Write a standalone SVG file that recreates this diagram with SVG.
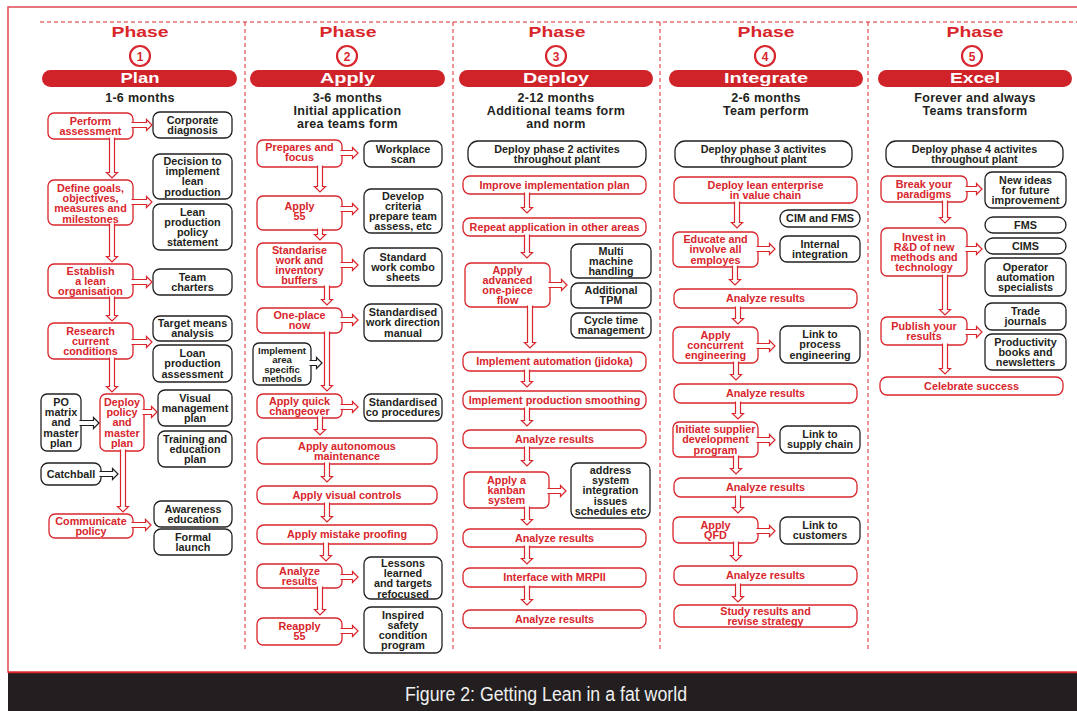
<svg xmlns="http://www.w3.org/2000/svg" width="1077" height="711" viewBox="0 0 1077 711">
<style>
text{font-family:"Liberation Sans",Arial,sans-serif;font-weight:bold;text-anchor:middle}
.r{fill:#fff;stroke:#d8262c;stroke-width:1.3}
.b{fill:#fff;stroke:#231f20;stroke-width:1.3}
.rt{fill:#d8262c;font-size:10.8px}
.bt{fill:#231f20;font-size:10.8px}
.sm{font-size:9.6px}
.ar{fill:#fff;stroke:#d8262c;stroke-width:1.2}
.ab{fill:#fff;stroke:#231f20;stroke-width:1.2}
.ph{fill:#d8262c;font-size:15px}
.num{fill:#d8262c;font-size:12px}
.circ{fill:#fff;stroke:#d8262c;stroke-width:2.2}
.pill{fill:#cf2229}
.pt{fill:#fff;font-size:14px}
.sub{fill:#231f20;font-size:12.5px;letter-spacing:0.3px}
.dash{stroke:#d8262c;stroke-width:1;stroke-dasharray:4 3;fill:none}
</style>
<rect width="1077" height="711" fill="#fff"/>
<rect x="8" y="7" width="1080" height="665" fill="none" stroke="#e0555a" stroke-width="1.6"/>
<rect x="8" y="673" width="1069" height="38" fill="#231f20"/>
<line x1="8" y1="672.5" x2="1077" y2="672.5" stroke="#d8262c" stroke-width="1.5"/>
<text x="546" y="701" style="font-weight:normal;font-size:20px;fill:#f0f0f0" textLength="282" lengthAdjust="spacingAndGlyphs">Figure 2: Getting Lean in a fat world</text>

<g id="frame">
<line class="dash" x1="40" y1="22" x2="1077" y2="22"/>
<line class="dash" x1="245" y1="22" x2="245" y2="650"/>
<line class="dash" x1="453" y1="22" x2="453" y2="650"/>
<line class="dash" x1="660" y1="22" x2="660" y2="650"/>
<line class="dash" x1="868" y1="22" x2="868" y2="650"/>
</g>

<g id="header1">
<text class="ph" x="140" y="37" textLength="57" lengthAdjust="spacingAndGlyphs">Phase</text>
<circle class="circ" cx="140" cy="56" r="10"/><text class="num" x="140" y="60.5">1</text>
<rect class="pill" x="42" y="70" width="195" height="17" rx="8.5"/>
<text class="pt" x="140" y="83" textLength="39" lengthAdjust="spacingAndGlyphs">Plan</text>
<text class="sub" x="140" y="102">1-6 months</text>
</g>
<g id="header2">
<text class="ph" x="348" y="37" textLength="57" lengthAdjust="spacingAndGlyphs">Phase</text>
<circle class="circ" cx="347" cy="56" r="10"/><text class="num" x="347" y="60.5">2</text>
<rect class="pill" x="250" y="70" width="195" height="17" rx="8.5"/>
<text class="pt" x="347.5" y="83" textLength="55" lengthAdjust="spacingAndGlyphs">Apply</text>
<text class="sub" x="347.5" y="102">3-6 months</text>
<text class="sub" x="347.5" y="115">Initial application</text>
<text class="sub" x="347.5" y="128">area teams form</text>
</g>
<g id="header3">
<text class="ph" x="557" y="37" textLength="57" lengthAdjust="spacingAndGlyphs">Phase</text>
<circle class="circ" cx="556" cy="56" r="10"/><text class="num" x="556" y="60.5">3</text>
<rect class="pill" x="459" y="70" width="194" height="17" rx="8.5"/>
<text class="pt" x="556" y="83" textLength="66" lengthAdjust="spacingAndGlyphs">Deploy</text>
<text class="sub" x="556" y="102">2-12 months</text>
<text class="sub" x="556" y="115">Additional teams form</text>
<text class="sub" x="556" y="128">and norm</text>
</g>
<g id="header4">
<text class="ph" x="766" y="37" textLength="57" lengthAdjust="spacingAndGlyphs">Phase</text>
<circle class="circ" cx="765" cy="56" r="10"/><text class="num" x="765" y="60.5">4</text>
<rect class="pill" x="669" y="70" width="194" height="17" rx="8.5"/>
<text class="pt" x="766" y="83" textLength="84" lengthAdjust="spacingAndGlyphs">Integrate</text>
<text class="sub" x="766" y="102">2-6 months</text>
<text class="sub" x="766" y="115">Team perform</text>
</g>
<g id="header5">
<text class="ph" x="975" y="37" textLength="57" lengthAdjust="spacingAndGlyphs">Phase</text>
<circle class="circ" cx="972" cy="56" r="10"/><text class="num" x="972" y="60.5">5</text>
<rect class="pill" x="878" y="70" width="194" height="17" rx="8.5"/>
<text class="pt" x="975" y="83" textLength="50" lengthAdjust="spacingAndGlyphs">Excel</text>
<text class="sub" x="975" y="102">Forever and always</text>
<text class="sub" x="975" y="115">Teams transform</text>
</g>

<!-- Column 1 -->
<g id="p1-perform"><rect class="r" x="48" y="113" width="85" height="26" rx="6"/><text class="rt" x="90.5" y="124.7">Perform</text><text class="rt" x="90.5" y="134.9">assessment</text></g>
<g id="p1-corporate"><rect class="b" x="153" y="112" width="79" height="26" rx="7"/><text class="bt" x="192.5" y="123.7">Corporate</text><text class="bt" x="192.5" y="133.9">diagnosis</text></g>
<g id="p1-define"><rect class="r" x="48" y="180" width="85" height="45" rx="6"/><text class="rt" x="90.5" y="191.5">Define goals,</text><text class="rt" x="90.5" y="201.9">objectives,</text><text class="rt" x="90.5" y="212.3">measures and</text><text class="rt" x="90.5" y="222.7">milestones</text></g>
<g id="p1-decision"><rect class="b" x="153" y="154" width="79" height="45" rx="7"/><text class="bt" x="192.5" y="165">Decision to</text><text class="bt" x="192.5" y="175.2">implement</text><text class="bt" x="192.5" y="185.4">lean</text><text class="bt" x="192.5" y="195.6">production</text></g>
<g id="p1-policy"><rect class="b" x="153" y="204" width="79" height="46" rx="7"/><text class="bt" x="192.5" y="215.5">Lean</text><text class="bt" x="192.5" y="225.7">production</text><text class="bt" x="192.5" y="235.9">policy</text><text class="bt" x="192.5" y="246.1">statement</text></g>
<g id="p1-establish"><rect class="r" x="48" y="264" width="85" height="34" rx="6"/><text class="rt" x="90.5" y="274.6">Establish</text><text class="rt" x="90.5" y="284.8">a lean</text><text class="rt" x="90.5" y="295">organisation</text></g>
<g id="p1-team"><rect class="b" x="153" y="269" width="79" height="26" rx="7"/><text class="bt" x="192.5" y="280.7">Team</text><text class="bt" x="192.5" y="290.9">charters</text></g>
<g id="p1-research"><rect class="r" x="48" y="323" width="85" height="36" rx="6"/><text class="rt" x="90.5" y="334.6">Research</text><text class="rt" x="90.5" y="344.8">current</text><text class="rt" x="90.5" y="355">conditions</text></g>
<g id="p1-target"><rect class="b" x="153" y="316" width="79" height="25" rx="7"/><text class="bt" x="192.5" y="327.2">Target means</text><text class="bt" x="192.5" y="337.4">analysis</text></g>
<g id="p1-loan"><rect class="b" x="153" y="345" width="79" height="37" rx="7"/><text class="bt" x="192.5" y="357.1">Loan</text><text class="bt" x="192.5" y="367.3">production</text><text class="bt" x="192.5" y="377.5">assessment</text></g>
<g id="p1-deploy"><rect class="r" x="100" y="394" width="44" height="57" rx="6"/><text class="rt" x="122" y="405.9">Deploy</text><text class="rt" x="122" y="416.1">policy</text><text class="rt" x="122" y="426.3">and</text><text class="rt" x="122" y="436.5">master</text><text class="rt" x="122" y="446.7">plan</text></g>
<g id="p1-visual"><rect class="b" x="158" y="390" width="74" height="36" rx="7"/><text class="bt" x="195" y="401.6">Visual</text><text class="bt" x="195" y="411.8">management</text><text class="bt" x="195" y="422">plan</text></g>
<g id="p1-training"><rect class="b" x="158" y="431" width="74" height="36" rx="7"/><text class="bt" x="195" y="442.6">Training and</text><text class="bt" x="195" y="452.8">education</text><text class="bt" x="195" y="463">plan</text></g>
<g id="p1-pomatrix"><rect class="b" x="41" y="394" width="40" height="57" rx="6"/><text class="bt" x="61" y="405.9">PO</text><text class="bt" x="61" y="416.1">matrix</text><text class="bt" x="61" y="426.3">and</text><text class="bt" x="61" y="436.5">master</text><text class="bt" x="61" y="446.7">plan</text></g>
<g id="p1-catchball"><rect class="b" x="41" y="463" width="60" height="22" rx="7"/><text class="bt" x="71" y="477.8">Catchball</text></g>
<g id="p1-communicate"><rect class="r" x="49" y="514" width="84" height="24" rx="6"/><text class="rt" x="91" y="524.7">Communicate</text><text class="rt" x="91" y="534.9">policy</text></g>
<g id="p1-awareness"><rect class="b" x="154" y="501" width="78" height="26" rx="7"/><text class="bt" x="193" y="512.7">Awareness</text><text class="bt" x="193" y="522.9">education</text></g>
<g id="p1-formal"><rect class="b" x="154" y="529" width="78" height="26" rx="7"/><text class="bt" x="193" y="540.7">Formal</text><text class="bt" x="193" y="550.9">launch</text></g>

<!-- Column 2 -->
<g id="p2-prepares"><rect class="r" x="257" y="140" width="85" height="27" rx="6"/><text class="rt" x="299.5" y="151.2">Prepares and</text><text class="rt" x="299.5" y="161.4">focus</text></g>
<g id="p2-workplace"><rect class="b" x="364" y="141" width="78" height="26" rx="7"/><text class="bt" x="403" y="152.7">Workplace</text><text class="bt" x="403" y="162.9">scan</text></g>
<g id="p2-apply55"><rect class="r" x="257" y="196" width="85" height="34" rx="6"/><text class="rt" x="299.5" y="210.2">Apply</text><text class="rt" x="299.5" y="220.4">55</text></g>
<g id="p2-develop"><rect class="b" x="364" y="189" width="78" height="44" rx="7"/><text class="bt" x="403" y="199.5">Develop</text><text class="bt" x="403" y="209.7">criteria</text><text class="bt" x="403" y="219.9">prepare team</text><text class="bt" x="403" y="230.1">assess, etc</text></g>
<g id="p2-standarise"><rect class="r" x="257" y="243" width="85" height="44" rx="6"/><text class="rt" x="299.5" y="253.5">Standarise</text><text class="rt" x="299.5" y="263.7">work and</text><text class="rt" x="299.5" y="273.9">inventory</text><text class="rt" x="299.5" y="284.1">buffers</text></g>
<g id="p2-standard"><rect class="b" x="364" y="248" width="78" height="38" rx="7"/><text class="bt" x="403" y="260.6">Standard</text><text class="bt" x="403" y="270.8">work combo</text><text class="bt" x="403" y="281">sheets</text></g>
<g id="p2-oneplace"><rect class="r" x="257" y="308" width="85" height="25" rx="6"/><text class="rt" x="299.5" y="319.2">One-place</text><text class="rt" x="299.5" y="329.4">now</text></g>
<g id="p2-workdir"><rect class="b" x="364" y="304" width="78" height="37" rx="7"/><text class="bt" x="403" y="316.1">Standardised</text><text class="bt" x="403" y="326.3">work direction</text><text class="bt" x="403" y="336.5">manual</text></g>
<g id="p2-implement"><rect class="b" x="253" y="343" width="58" height="42" rx="6"/><text class="bt sm" x="282" y="354">Implement</text><text class="bt sm" x="282" y="363.3">area</text><text class="bt sm" x="282" y="372.6">specific</text><text class="bt sm" x="282" y="381.9">methods</text></g>
<g id="p2-quick"><rect class="r" x="257" y="394" width="85" height="24" rx="6"/><text class="rt" x="299.5" y="404.7">Apply quick</text><text class="rt" x="299.5" y="414.9">changeover</text></g>
<g id="p2-coproc"><rect class="b" x="364" y="394" width="78" height="27" rx="7"/><text class="bt" x="403" y="406.2">Standardised</text><text class="bt" x="403" y="416.4">co procedures</text></g>
<g id="p2-autonomous"><rect class="r" x="257" y="438" width="180" height="26" rx="7"/><text class="rt" x="347" y="449.7">Apply autonomous</text><text class="rt" x="347" y="459.9">maintenance</text></g>
<g id="p2-visual"><rect class="r" x="257" y="486" width="180" height="18" rx="7"/><text class="rt" x="347" y="498.8">Apply visual controls</text></g>
<g id="p2-mistake"><rect class="r" x="257" y="525" width="180" height="19" rx="7"/><text class="rt" x="347" y="538.3">Apply mistake proofing</text></g>
<g id="p2-analyze"><rect class="r" x="257" y="564" width="85" height="24" rx="6"/><text class="rt" x="299.5" y="574.7">Analyze</text><text class="rt" x="299.5" y="584.9">results</text></g>
<g id="p2-lessons"><rect class="b" x="364" y="557" width="78" height="42" rx="7"/><text class="bt" x="403" y="567">Lessons</text><text class="bt" x="403" y="577.2">learned</text><text class="bt" x="403" y="587.4">and targets</text><text class="bt" x="403" y="597.6">refocused</text></g>
<g id="p2-reapply"><rect class="r" x="257" y="618" width="85" height="27" rx="6"/><text class="rt" x="299.5" y="630.2">Reapply</text><text class="rt" x="299.5" y="640.4">55</text></g>
<g id="p2-inspired"><rect class="b" x="364" y="607" width="78" height="46" rx="7"/><text class="bt" x="403" y="618.5">Inspired</text><text class="bt" x="403" y="628.7">safety</text><text class="bt" x="403" y="638.9">condition</text><text class="bt" x="403" y="649.1">program</text></g>

<!-- Column 3 -->
<g id="p3-deploy2"><rect class="b" x="468" y="141" width="178" height="26" rx="10"/><text class="bt" x="557" y="152.7">Deploy phase 2 activites</text><text class="bt" x="557" y="162.9">throughout plant</text></g>
<g id="p3-improve"><rect class="r" x="463" y="176" width="183" height="18" rx="7"/><text class="rt" x="554.5" y="188.8">Improve implementation plan</text></g>
<g id="p3-repeat"><rect class="r" x="463" y="218" width="183" height="18" rx="7"/><text class="rt" x="554.5" y="230.8">Repeat application in other areas</text></g>
<g id="p3-onepiece"><rect class="r" x="465" y="263" width="85" height="44" rx="6"/><text class="rt" x="507.5" y="273.5">Apply</text><text class="rt" x="507.5" y="283.7">advanced</text><text class="rt" x="507.5" y="293.9">one-piece</text><text class="rt" x="507.5" y="304.1">flow</text></g>
<g id="p3-multi"><rect class="b" x="571" y="244" width="80" height="34" rx="7"/><text class="bt" x="611" y="254.6">Multi</text><text class="bt" x="611" y="264.8">machine</text><text class="bt" x="611" y="275">handling</text></g>
<g id="p3-tpm"><rect class="b" x="571" y="283" width="80" height="25" rx="7"/><text class="bt" x="611" y="294.2">Additional</text><text class="bt" x="611" y="304.4">TPM</text></g>
<g id="p3-cycle"><rect class="b" x="571" y="313" width="80" height="25" rx="7"/><text class="bt" x="611" y="324.2">Cycle time</text><text class="bt" x="611" y="334.4">management</text></g>
<g id="p3-jidoka"><rect class="r" x="463" y="352" width="183" height="19" rx="7"/><text class="rt" x="554.5" y="365.3">Implement automation (jidoka)</text></g>
<g id="p3-smoothing"><rect class="r" x="463" y="391" width="183" height="18" rx="7"/><text class="rt" x="554.5" y="403.8">Implement production smoothing</text></g>
<g id="p3-analyze1"><rect class="r" x="463" y="430" width="183" height="18" rx="7"/><text class="rt" x="554.5" y="442.8">Analyze results</text></g>
<g id="p3-kanban"><rect class="r" x="464" y="472" width="85" height="36" rx="6"/><text class="rt" x="506.5" y="483.6">Apply a</text><text class="rt" x="506.5" y="493.8">kanban</text><text class="rt" x="506.5" y="504">system</text></g>
<g id="p3-address"><rect class="b" x="571" y="463" width="79" height="55" rx="7"/><text class="bt" x="610.5" y="473.9">address</text><text class="bt" x="610.5" y="484.1">system</text><text class="bt" x="610.5" y="494.3">integration</text><text class="bt" x="610.5" y="504.5">issues</text><text class="bt" x="610.5" y="514.7">schedules etc</text></g>
<g id="p3-analyze2"><rect class="r" x="463" y="529" width="183" height="18" rx="7"/><text class="rt" x="554.5" y="541.8">Analyze results</text></g>
<g id="p3-mrpii"><rect class="r" x="463" y="568" width="183" height="19" rx="7"/><text class="rt" x="554.5" y="581.3">Interface with MRPII</text></g>
<g id="p3-analyze3"><rect class="r" x="463" y="610" width="183" height="18" rx="7"/><text class="rt" x="554.5" y="622.8">Analyze results</text></g>

<!-- Column 4 -->
<g id="p4-deploy3"><rect class="b" x="675" y="141" width="177" height="26" rx="10"/><text class="bt" x="763.5" y="152.7">Deploy phase 3 activites</text><text class="bt" x="763.5" y="162.9">throughout plant</text></g>
<g id="p4-enterprise"><rect class="r" x="674" y="177" width="183" height="26" rx="7"/><text class="rt" x="765.5" y="188.7">Deploy lean enterprise</text><text class="rt" x="765.5" y="198.9">in value chain</text></g>
<g id="p4-cim"><rect class="b" x="780" y="210" width="80" height="17" rx="8"/><text class="bt" x="820" y="222.3">CIM and FMS</text></g>
<g id="p4-educate"><rect class="r" x="673" y="232" width="85" height="35" rx="6"/><text class="rt" x="715.5" y="243.1">Educate and</text><text class="rt" x="715.5" y="253.3">involve all</text><text class="rt" x="715.5" y="263.5">employes</text></g>
<g id="p4-internal"><rect class="b" x="780" y="236" width="80" height="26" rx="7"/><text class="bt" x="820" y="247.7">Internal</text><text class="bt" x="820" y="257.9">integration</text></g>
<g id="p4-analyze1"><rect class="r" x="674" y="289" width="183" height="19" rx="7"/><text class="rt" x="765.5" y="302.3">Analyze results</text></g>
<g id="p4-concurrent"><rect class="r" x="673" y="327" width="85" height="36" rx="6"/><text class="rt" x="715.5" y="338.6">Apply</text><text class="rt" x="715.5" y="348.8">concurrent</text><text class="rt" x="715.5" y="359">engineering</text></g>
<g id="p4-process"><rect class="b" x="780" y="326" width="80" height="37" rx="7"/><text class="bt" x="820" y="338.1">Link to</text><text class="bt" x="820" y="348.3">process</text><text class="bt" x="820" y="358.5">engineering</text></g>
<g id="p4-analyze2"><rect class="r" x="674" y="384" width="183" height="19" rx="7"/><text class="rt" x="765.5" y="397.3">Analyze results</text></g>
<g id="p4-supplier"><rect class="r" x="673" y="422" width="85" height="35" rx="6"/><text class="rt" x="715.5" y="433.1">Initiate supplier</text><text class="rt" x="715.5" y="443.3">development</text><text class="rt" x="715.5" y="453.5">program</text></g>
<g id="p4-supply"><rect class="b" x="780" y="426" width="80" height="27" rx="7"/><text class="bt" x="820" y="438.2">Link to</text><text class="bt" x="820" y="448.4">supply chain</text></g>
<g id="p4-analyze3"><rect class="r" x="674" y="478" width="183" height="19" rx="7"/><text class="rt" x="765.5" y="491.3">Analyze results</text></g>
<g id="p4-qfd"><rect class="r" x="673" y="517" width="85" height="26" rx="6"/><text class="rt" x="715.5" y="528.7">Apply</text><text class="rt" x="715.5" y="538.9">QFD</text></g>
<g id="p4-customers"><rect class="b" x="780" y="517" width="80" height="27" rx="7"/><text class="bt" x="820" y="529.2">Link to</text><text class="bt" x="820" y="539.4">customers</text></g>
<g id="p4-analyze4"><rect class="r" x="674" y="566" width="183" height="19" rx="7"/><text class="rt" x="765.5" y="579.3">Analyze results</text></g>
<g id="p4-study"><rect class="r" x="674" y="605" width="183" height="22" rx="7"/><text class="rt" x="765.5" y="615">Study results and</text><text class="rt" x="765.5" y="625.2">revise strategy</text></g>

<!-- Column 5 -->
<g id="p5-deploy4"><rect class="b" x="886" y="141" width="177" height="26" rx="10"/><text class="bt" x="974.5" y="152.7">Deploy phase 4 activites</text><text class="bt" x="974.5" y="162.9">throughout plant</text></g>
<g id="p5-break"><rect class="r" x="881" y="176" width="86" height="26" rx="6"/><text class="rt" x="924" y="187.7">Break your</text><text class="rt" x="924" y="197.9">paradigms</text></g>
<g id="p5-ideas"><rect class="b" x="985" y="172" width="81" height="36" rx="7"/><text class="bt" x="1025.5" y="183.6">New ideas</text><text class="bt" x="1025.5" y="193.8">for future</text><text class="bt" x="1025.5" y="204">improvement</text></g>
<g id="p5-invest"><rect class="r" x="881" y="228" width="86" height="48" rx="6"/><text class="rt" x="924" y="240.5">Invest in</text><text class="rt" x="924" y="250.7">R&amp;D of new</text><text class="rt" x="924" y="260.9">methods and</text><text class="rt" x="924" y="271.1">technology</text></g>
<g id="p5-fms"><rect class="b" x="985" y="217" width="81" height="16" rx="8"/><text class="bt" x="1025.5" y="228.8">FMS</text></g>
<g id="p5-cims"><rect class="b" x="985" y="238" width="81" height="16" rx="8"/><text class="bt" x="1025.5" y="249.8">CIMS</text></g>
<g id="p5-operator"><rect class="b" x="985" y="258" width="81" height="38" rx="7"/><text class="bt" x="1025.5" y="270.6">Operator</text><text class="bt" x="1025.5" y="280.8">automation</text><text class="bt" x="1025.5" y="291">specialists</text></g>
<g id="p5-publish"><rect class="r" x="881" y="317" width="86" height="28" rx="6"/><text class="rt" x="924" y="329.7">Publish your</text><text class="rt" x="924" y="339.9">results</text></g>
<g id="p5-trade"><rect class="b" x="985" y="303" width="81" height="27" rx="7"/><text class="bt" x="1025.5" y="315.2">Trade</text><text class="bt" x="1025.5" y="325.4">journals</text></g>
<g id="p5-productivity"><rect class="b" x="985" y="334" width="81" height="36" rx="7"/><text class="bt" x="1025.5" y="345.6">Productivity</text><text class="bt" x="1025.5" y="355.8">books and</text><text class="bt" x="1025.5" y="366">newsletters</text></g>
<g id="p5-celebrate"><rect class="r" x="880" y="377" width="183" height="18" rx="7"/><text class="rt" x="971.5" y="389.8">Celebrate success</text></g>

<g id="connectors">
<path class="ar" d="M131.5,122.5 H146.5 V119.5 L152,125 L146.5,130.5 V127.5 H131.5"/>
<path class="ar" d="M109.5,137.5 V172.5 H106.5 L112,178 L117.5,172.5 H114.5 V137.5"/>
<path class="ar" d="M131.5,199.5 H146.5 V196.5 L152,202 L146.5,207.5 V204.5 H131.5"/>
<path class="ar" d="M109.5,223.5 V256.5 H106.5 L112,262 L117.5,256.5 H114.5 V223.5"/>
<path class="ar" d="M131.5,279.5 H146.5 V276.5 L152,282 L146.5,287.5 V284.5 H131.5"/>
<path class="ar" d="M109.5,296.5 V315.5 H106.5 L112,321 L117.5,315.5 H114.5 V296.5"/>
<path class="ar" d="M131.5,339.5 H146.5 V336.5 L152,342 L146.5,347.5 V344.5 H131.5"/>
<path class="ar" d="M109.5,357.5 V386.5 H106.5 L112,392 L117.5,386.5 H114.5 V357.5"/>
<path class="ar" d="M142.5,409.5 H151.5 V406.5 L157,412 L151.5,417.5 V414.5 H142.5"/>
<path class="ab" d="M79.5,420.5 H93.5 V417.5 L99,423 L93.5,428.5 V425.5 H79.5"/>
<path class="ar" d="M120.5,449.5 V506.5 H117.5 L123,512 L128.5,506.5 H125.5 V449.5"/>
<path class="ab" d="M99.5,471.5 H112.5 V468.5 L118,474 L112.5,479.5 V476.5 H99.5"/>
<path class="ar" d="M131.5,522.5 H145.5 V519.5 L151,525 L145.5,530.5 V527.5 H131.5"/>
<path class="ar" d="M340.5,150.5 H352.5 V147.5 L358,153 L352.5,158.5 V155.5 H340.5"/>
<path class="ar" d="M317.5,165.5 V186.5 H314.5 L320,192 L325.5,186.5 H322.5 V165.5"/>
<path class="ar" d="M340.5,206.5 H352.5 V203.5 L358,209 L352.5,214.5 V211.5 H340.5"/>
<path class="ar" d="M317.5,228.5 V234.5 H314.5 L320,240 L325.5,234.5 H322.5 V228.5"/>
<path class="ar" d="M340.5,262.5 H352.5 V259.5 L358,265 L352.5,270.5 V267.5 H340.5"/>
<path class="ar" d="M324.5,285.5 V299.5 H321.5 L327,305 L332.5,299.5 H329.5 V285.5"/>
<path class="ar" d="M340.5,317.5 H352.5 V314.5 L358,320 L352.5,325.5 V322.5 H340.5"/>
<path class="ar" d="M324.5,331.5 V385.5 H321.5 L327,391 L332.5,385.5 H329.5 V331.5"/>
<path class="ab" d="M309.5,360.5 H316.5 V357.5 L322,363 L316.5,368.5 V365.5 H309.5"/>
<path class="ar" d="M340.5,404.5 H352.5 V401.5 L358,407 L352.5,412.5 V409.5 H340.5"/>
<path class="ar" d="M317.5,416.5 V429.5 H314.5 L320,435 L325.5,429.5 H322.5 V416.5"/>
<path class="ar" d="M324.5,462.5 V476.5 H321.5 L327,482 L332.5,476.5 H329.5 V462.5"/>
<path class="ar" d="M324.5,502.5 V516.5 H321.5 L327,522 L332.5,516.5 H329.5 V502.5"/>
<path class="ar" d="M323.5,542.5 V555.5 H320.5 L326,561 L331.5,555.5 H328.5 V542.5"/>
<path class="ar" d="M340.5,574.5 H352.5 V571.5 L358,577 L352.5,582.5 V579.5 H340.5"/>
<path class="ar" d="M317.5,586.5 V609.5 H314.5 L320,615 L325.5,609.5 H322.5 V586.5"/>
<path class="ar" d="M340.5,628.5 H352.5 V625.5 L358,631 L352.5,636.5 V633.5 H340.5"/>
<path class="ar" d="M524.5,192.5 V207.5 H521.5 L527,213 L532.5,207.5 H529.5 V192.5"/>
<path class="ar" d="M524.5,234.5 V252.5 H521.5 L527,258 L532.5,252.5 H529.5 V234.5"/>
<path class="ar" d="M548.5,282.5 H561.5 V279.5 L567,285 L561.5,290.5 V287.5 H548.5"/>
<path class="ar" d="M527.5,305.5 V342.5 H524.5 L530,348 L535.5,342.5 H532.5 V305.5"/>
<path class="ar" d="M524.5,369.5 V381.5 H521.5 L527,387 L532.5,381.5 H529.5 V369.5"/>
<path class="ar" d="M524.5,407.5 V420.5 H521.5 L527,426 L532.5,420.5 H529.5 V407.5"/>
<path class="ar" d="M524.5,446.5 V460.5 H521.5 L527,466 L532.5,460.5 H529.5 V446.5"/>
<path class="ar" d="M547.5,488.5 H560.5 V485.5 L566,491 L560.5,496.5 V493.5 H547.5"/>
<path class="ar" d="M524.5,506.5 V519.5 H521.5 L527,525 L532.5,519.5 H529.5 V506.5"/>
<path class="ar" d="M524.5,545.5 V558.5 H521.5 L527,564 L532.5,558.5 H529.5 V545.5"/>
<path class="ar" d="M524.5,585.5 V599.5 H521.5 L527,605 L532.5,599.5 H529.5 V585.5"/>
<path class="ar" d="M734.5,201.5 V222.5 H731.5 L737,228 L742.5,222.5 H739.5 V201.5"/>
<path class="ar" d="M756.5,246.5 H769.5 V243.5 L775,249 L769.5,254.5 V251.5 H756.5"/>
<path class="ar" d="M732.5,265.5 V279.5 H729.5 L735,285 L740.5,279.5 H737.5 V265.5"/>
<path class="ar" d="M735.5,306.5 V318.5 H732.5 L738,324 L743.5,318.5 H740.5 V306.5"/>
<path class="ar" d="M756.5,343.5 H769.5 V340.5 L775,346 L769.5,351.5 V348.5 H756.5"/>
<path class="ar" d="M733.5,361.5 V374.5 H730.5 L736,380 L741.5,374.5 H738.5 V361.5"/>
<path class="ar" d="M735.5,401.5 V413.5 H732.5 L738,419 L743.5,413.5 H740.5 V401.5"/>
<path class="ar" d="M756.5,437.5 H769.5 V434.5 L775,440 L769.5,445.5 V442.5 H756.5"/>
<path class="ar" d="M733.5,455.5 V468.5 H730.5 L736,474 L741.5,468.5 H738.5 V455.5"/>
<path class="ar" d="M735.5,495.5 V507.5 H732.5 L738,513 L743.5,507.5 H740.5 V495.5"/>
<path class="ar" d="M756.5,528.5 H769.5 V525.5 L775,531 L769.5,536.5 V533.5 H756.5"/>
<path class="ar" d="M733.5,541.5 V555.5 H730.5 L736,561 L741.5,555.5 H738.5 V541.5"/>
<path class="ar" d="M735.5,583.5 V596.5 H732.5 L738,602 L743.5,596.5 H740.5 V583.5"/>
<path class="ar" d="M965.5,186.5 H976.5 V183.5 L982,189 L976.5,194.5 V191.5 H965.5"/>
<path class="ar" d="M942.5,200.5 V217.5 H939.5 L945,223 L950.5,217.5 H947.5 V200.5"/>
<path class="ar" d="M965.5,246.5 H976.5 V243.5 L982,249 L976.5,254.5 V251.5 H965.5"/>
<path class="ar" d="M942.5,274.5 V309.5 H939.5 L945,315 L950.5,309.5 H947.5 V274.5"/>
<path class="ar" d="M965.5,329.5 H976.5 V326.5 L982,332 L976.5,337.5 V334.5 H965.5"/>
<path class="ar" d="M942.5,343.5 V368.5 H939.5 L945,374 L950.5,368.5 H947.5 V343.5"/>
</g>
</svg>
